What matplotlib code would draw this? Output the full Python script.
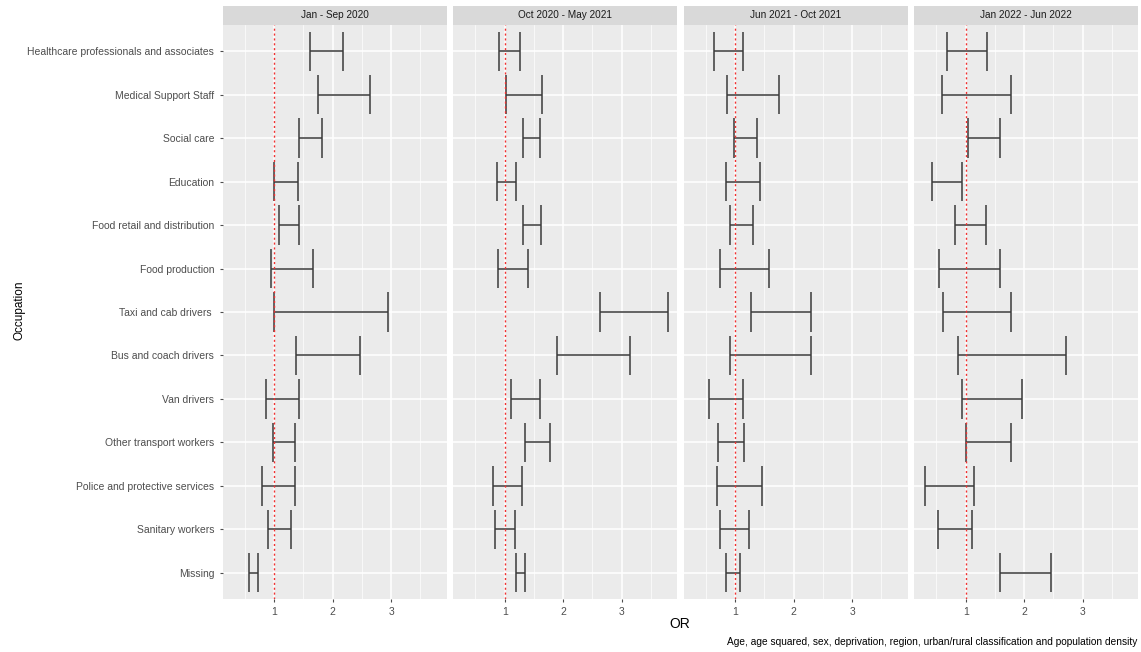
import numpy as np
import matplotlib
matplotlib.use("Agg")
import matplotlib.pyplot as plt
from matplotlib.patches import Rectangle
from matplotlib.ticker import MultipleLocator

plt.rcParams["font.family"] = ["Liberation Sans", "DejaVu Sans"]

occupations = [
    "Healthcare professionals and associates",
    "Medical Support Staff",
    "Social care",
    "Education",
    "Food retail and distribution",
    "Food production",
    "Taxi and cab drivers ",
    "Bus and coach drivers",
    "Van drivers",
    "Other transport workers",
    "Police and protective services",
    "Sanitary workers",
    "Missing",
]

periods = ["Jan - Sep 2020", "Oct 2020 - May 2021", "Jun 2021 - Oct 2021", "Jan 2022 - Jun 2022"]

# lower / upper confidence limits of the OR, one list per period
lower_p1 = [1.62, 1.75, 1.43, 0.99, 1.08, 0.95, 0.99, 1.38, 0.86, 0.98, 0.79, 0.89, 0.57]
upper_p1 = [2.17, 2.63, 1.81, 1.41, 1.42, 1.66, 2.94, 2.47, 1.43, 1.35, 1.36, 1.29, 0.73]

lower_p2 = [0.91, 1.03, 1.31, 0.86, 1.31, 0.89, 2.63, 1.89, 1.10, 1.35, 0.80, 0.84, 1.19]
upper_p2 = [1.26, 1.64, 1.60, 1.20, 1.62, 1.40, 3.79, 3.15, 1.61, 1.77, 1.30, 1.18, 1.35]

lower_p3 = [0.63, 0.86, 0.98, 0.85, 0.91, 0.74, 1.27, 0.91, 0.55, 0.71, 0.69, 0.74, 0.85]
upper_p3 = [1.14, 1.75, 1.38, 1.42, 1.30, 1.58, 2.30, 2.29, 1.14, 1.15, 1.45, 1.24, 1.08]

lower_p4 = [0.68, 0.59, 1.03, 0.42, 0.82, 0.55, 0.61, 0.86, 0.93, 1.01, 0.30, 0.52, 1.59]
upper_p4 = [1.36, 1.78, 1.58, 0.93, 1.34, 1.59, 1.78, 2.72, 1.97, 1.78, 1.14, 1.11, 2.46]

lowers = [lower_p1, lower_p2, lower_p3, lower_p4]
uppers = [upper_p1, upper_p2, upper_p3, upper_p4]

W, H = 1141, 652
fig, axes = plt.subplots(1, 4, figsize=(W / 100, H / 100), dpi=100, sharey=True)
fig.subplots_adjust(left=222.7 / W, right=1138.3 / W, bottom=1 - 599 / H, top=1 - 25 / H, wspace=0.029)

ypos = np.arange(len(occupations))
strip_h = 19 / 574

for i, ax in enumerate(axes):
    lo = np.array(lowers[i])
    hi = np.array(uppers[i])
    ax.set_facecolor("#EBEBEB")
    ax.set_xlim(0.12, 3.95)
    ax.set_ylim(len(occupations) - 0.4, -0.6)
    ax.xaxis.set_minor_locator(MultipleLocator(0.5))
    ax.set_xticks([1, 2, 3])
    ax.grid(which="major", color="white", linewidth=1.1)
    ax.grid(which="minor", axis="x", color="white", linewidth=0.5)
    ax.set_axisbelow(True)
    for s in ax.spines.values():
        s.set_visible(False)

    ax.hlines(ypos, lo, hi, color="#3A3A3A", linewidth=1.1)
    ax.vlines(lo, ypos - 0.45, ypos + 0.45, color="#3A3A3A", linewidth=1.1)
    ax.vlines(hi, ypos - 0.45, ypos + 0.45, color="#3A3A3A", linewidth=1.1)
    ax.axvline(1, color="#F03030", linestyle=(0, (1.5, 2)), linewidth=1.0)

    ax.tick_params(axis="both", which="major", colors="#4D4D4D", labelcolor="#4D4D4D",
                   labelsize=7.5, length=2.5, width=0.8)
    ax.tick_params(axis="both", which="minor", length=0)

    ax.add_patch(Rectangle((0, 1), 1, strip_h, transform=ax.transAxes,
                           facecolor="#D9D9D9", edgecolor="none", clip_on=False))
    ax.text(0.5, 1 + strip_h / 2, periods[i], transform=ax.transAxes, ha="center",
            va="center", fontsize=7.2, color="#1A1A1A")

axes[0].set_yticks(ypos)
axes[0].set_yticklabels(occupations)
for ax in axes[1:]:
    ax.tick_params(axis="y", length=0)

fig.text(20 / W, 1 - 310 / H, "Occupation", rotation=90, ha="center", va="center",
         fontsize=8.5, color="black")
fig.text(680 / W, 1 - 624 / H, "OR", ha="center", va="center", fontsize=10, color="black")
fig.text(1137 / W, 1 - 642 / H,
         "Age, age squared, sex, deprivation, region, urban/rural classification and population density",
         ha="right", va="center", fontsize=7.3, color="black")

fig.savefig("out.png", dpi=100)
